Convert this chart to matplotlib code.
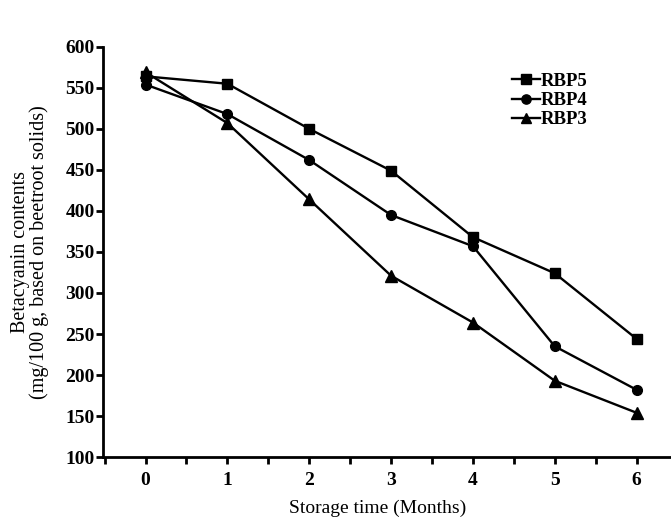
import matplotlib
matplotlib.use('Agg')
import matplotlib.pyplot as plt
from matplotlib.ticker import MultipleLocator

plt.rcParams['font.family'] = ['Liberation Serif', 'DejaVu Serif']

months = [0, 1, 2, 3, 4, 5, 6]
rbp5 = [564, 555, 500, 449, 368, 324, 244]
rbp4 = [554, 518, 462, 395, 357, 235, 182]
rbp3 = [569, 507, 414, 321, 264, 193, 154]

fig = plt.figure(figsize=(6.71, 5.26), dpi=100)
ax = fig.add_axes([0.1535, 0.131, 0.8465, 0.78])

ax.plot(months, rbp5, color='black', lw=1.7, marker='s', ms=7, label='RBP5')
ax.plot(months, rbp4, color='black', lw=1.7, marker='o', ms=7, label='RBP4')
ax.plot(months, rbp3, color='black', lw=1.7, marker='^', ms=8, label='RBP3')

ax.set_xlim(-0.52, 6.42)
ax.set_ylim(100, 600)
ax.set_xticks(months)
ax.xaxis.set_minor_locator(MultipleLocator(0.5))
ax.yaxis.set_major_locator(MultipleLocator(50))

for s in ['top', 'right']:
    ax.spines[s].set_visible(False)
for s in ['left', 'bottom']:
    ax.spines[s].set_linewidth(2)

ax.tick_params(axis='both', which='both', direction='out', width=2, length=5)
ax.tick_params(axis='x', pad=6)
ax.tick_params(axis='y', pad=1)
for lab in ax.get_xticklabels() + ax.get_yticklabels():
    lab.set_fontweight('bold')
    lab.set_fontsize(14)

ax.set_xlabel('Storage time (Months)', fontsize=14)
ax.xaxis.set_label_coords(0.484, -0.105)
ax.set_ylabel('Betacyanin contents\n(mg/100 g, based on beetroot solids)', fontsize=14.5,
              labelpad=12, linespacing=0.95)

leg = ax.legend(loc='upper left', bbox_to_anchor=(0.763, 0.862), bbox_transform=fig.transFigure,
                frameon=False, borderpad=0, borderaxespad=0,
                handlelength=1.5, handletextpad=0.05, labelspacing=0.12,
                markerscale=0.95, prop={'weight': 'bold', 'size': 13.5})

fig.savefig('out.png', dpi=100)
